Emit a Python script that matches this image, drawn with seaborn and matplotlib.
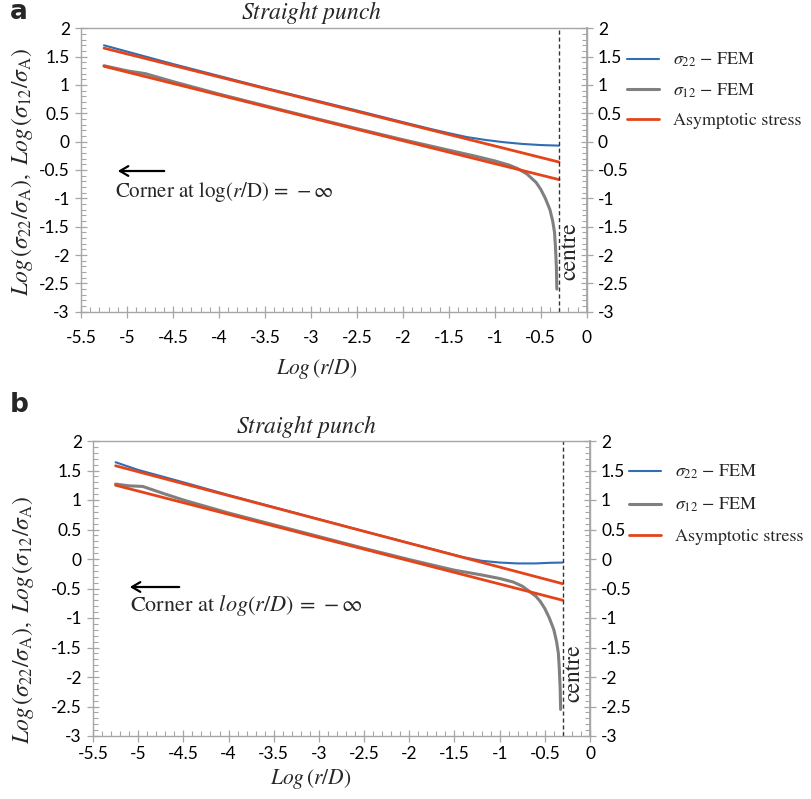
import numpy as np
import pandas as pd
import matplotlib
matplotlib.use("Agg")
import matplotlib.pyplot as plt
from matplotlib.ticker import MultipleLocator, FixedLocator
import seaborn as sns

# ---------------- data ----------------
# Panel a
a_s22_x = [-5.25, -5.0, -4.5, -4.0, -3.5, -3.0, -2.5, -2.0, -1.7, -1.5, -1.3, -1.1, -0.9, -0.7, -0.5, -0.3]
a_s22_y = [1.70, 1.59, 1.37, 1.16, 0.95, 0.75, 0.55, 0.345, 0.225, 0.15, 0.08, 0.03, -0.01, -0.04, -0.06, -0.07]
a_s12_x = [-5.25, -5.0, -4.8, -4.5, -4.0, -3.5, -3.0, -2.5, -2.0, -1.5, -1.2, -1.0, -0.85, -0.75,
           -0.65, -0.55, -0.5, -0.45, -0.4, -0.37, -0.35, -0.34, -0.33, -0.325]
a_s12_y = [1.34, 1.25, 1.20, 1.06, 0.84, 0.635, 0.43, 0.23, 0.035, -0.15, -0.26, -0.34, -0.41, -0.475,
           -0.57, -0.72, -0.84, -1.0, -1.2, -1.4, -1.6, -1.85, -2.2, -2.6]
a_asym_x = [-5.25, -0.3]
a_asym_up = [1.65, -0.36]
a_asym_lo = [1.33, -0.67]

# Panel b
b_s22_x = [-5.25, -5.0, -4.5, -4.0, -3.5, -3.0, -2.5, -2.0, -1.6, -1.4, -1.2, -1.0, -0.8, -0.6, -0.45, -0.3]
b_s22_y = [1.64, 1.51, 1.30, 1.085, 0.88, 0.675, 0.47, 0.27, 0.11, 0.03, -0.03, -0.06, -0.075, -0.075, -0.065, -0.06]
b_s12_x = [-5.25, -5.1, -4.95, -4.7, -4.5, -4.0, -3.5, -3.0, -2.5, -2.0, -1.5, -1.2, -1.0, -0.85, -0.75,
           -0.67, -0.6, -0.55, -0.5, -0.45, -0.4, -0.37, -0.35, -0.34, -0.33, -0.325]
b_s12_y = [1.27, 1.24, 1.23, 1.10, 1.00, 0.78, 0.58, 0.38, 0.18, -0.01, -0.19, -0.27, -0.33, -0.39, -0.46,
           -0.55, -0.63, -0.72, -0.84, -1.0, -1.2, -1.4, -1.6, -1.85, -2.2, -2.55]
b_asym_x = [-5.25, -0.3]
b_asym_up = [1.58, -0.42]
b_asym_lo = [1.25, -0.70]

centre_x = -0.3
x_ticks = [-5.5, -5, -4.5, -4, -3.5, -3, -2.5, -2, -1.5, -1, -0.5, 0]
y_ticks = [-3, -2.5, -2, -1.5, -1, -0.5, 0, 0.5, 1, 1.5, 2]
labels = [r"$\sigma_{22}$ $-$ FEM", r"$\sigma_{12}$ $-$ FEM", "Asymptotic stress"]

# ---------------- style ----------------
sns.set_theme(style="white")
plt.rcParams["font.family"] = ["Lato", "DejaVu Sans"]
plt.rcParams["mathtext.fontset"] = "stix"

BLUE = "#2F6DB5"
GRAY = "#808080"
RED = "#E4441A"
SPINE = "#A6A6A6"
SERIF = "STIXGeneral"

W, H = 811, 799
fig = plt.figure(figsize=(W / 100, H / 100), dpi=100)


def fx(px):
    return px / W


def fy(py):
    return 1 - py / H


def panel(left, right, top, bottom, s22x, s22y, s12x, s12y, ax_x, up, lo,
          title_x, title_py, corner_text, arrow_y, arrow_x0, arrow_x1, text_px, text_py, text_size,
          letter, letter_py, xlabel_pos, ylabel_pos, legend_py, legend_px, legend_spacing, xpad):
    ax = fig.add_axes([fx(left), fy(bottom), fx(right - left), (bottom - top) / H])
    df22 = pd.DataFrame({"x": s22x, "y": s22y})
    df12 = pd.DataFrame({"x": s12x, "y": s12y})
    dfu = pd.DataFrame({"x": ax_x, "y": up})
    dfl = pd.DataFrame({"x": ax_x, "y": lo})
    sns.lineplot(data=df22, x="x", y="y", ax=ax, color=BLUE, lw=1.5, estimator=None, sort=False, label=labels[0])
    sns.lineplot(data=df12, x="x", y="y", ax=ax, color=GRAY, lw=2.2, estimator=None, sort=False, label=labels[1])
    sns.lineplot(data=dfu, x="x", y="y", ax=ax, color=RED, lw=2.0, estimator=None, sort=False, label=labels[2])
    sns.lineplot(data=dfl, x="x", y="y", ax=ax, color=RED, lw=2.0, estimator=None, sort=False)
    ax.axvline(centre_x, color="#333333", lw=1.0, ls=(0, (3, 2)))

    ax.set_xlim(-5.5, 0)
    ax.set_ylim(-3, 2)
    ax.xaxis.set_major_locator(FixedLocator(x_ticks))
    ax.yaxis.set_major_locator(FixedLocator(y_ticks))
    ax.xaxis.set_minor_locator(MultipleLocator(0.1))
    ax.yaxis.set_minor_locator(MultipleLocator(0.1))
    ax.set_xticklabels([f"{t:g}" for t in x_ticks])
    ax.set_yticklabels([f"{t:g}" for t in y_ticks])
    for s in ax.spines.values():
        s.set_color(SPINE)
        s.set_linewidth(1.0)
    ax.tick_params(which="major", direction="inout", length=8, width=0.9, color=SPINE,
                   labelsize=12.5, labelcolor="black", bottom=True, left=True, top=False, right=False)
    ax.tick_params(axis="x", which="major", pad=xpad)
    ax.tick_params(axis="y", which="major", pad=4)
    ax.tick_params(which="minor", direction="in", length=3.5, width=0.8, color=SPINE,
                   bottom=True, left=True, top=False, right=False)

    ax.set_xlabel(r"$Log\,(r/D)$", fontsize=15.5)
    ax.xaxis.set_label_coords(*xlabel_pos)
    ax.xaxis.label.set_verticalalignment("top")
    ax.set_ylabel(r"$Log\,(\sigma_{22}/\sigma_{\mathrm{A}}),\ Log\,(\sigma_{12}/\sigma_{\mathrm{A}})$", fontsize=17)
    ax.yaxis.set_label_coords(*ylabel_pos)
    ax.yaxis.label.set_verticalalignment("center")

    ax2 = ax.twinx()
    ax2.set_ylim(-3, 2)
    ax2.yaxis.set_major_locator(FixedLocator(y_ticks))
    ax2.yaxis.set_minor_locator(MultipleLocator(0.1))
    ax2.set_yticklabels([f"{t:g}" for t in y_ticks])
    for s in ax2.spines.values():
        s.set_visible(False)
    ax2.spines["right"].set_visible(True)
    ax2.spines["right"].set_color(SPINE)
    ax2.tick_params(which="major", direction="inout", length=8, width=0.9, color=SPINE,
                    labelsize=12.5, labelcolor="black", pad=4)
    ax2.tick_params(which="minor", direction="in", length=3.5, width=0.8, color=SPINE)
    ax2.grid(False)

    # title
    fig.text(fx(title_x), fy(title_py), r"$Straight\ punch$", fontsize=17, ha="center", va="center")
    # panel letter
    fig.text(fx(10), fy(letter_py), letter, fontsize=19, fontweight="bold", ha="left", va="center",
             family=["DejaVu Sans"])
    # arrow and corner note
    fig.add_artist(matplotlib.patches.FancyArrowPatch(
        (fx(arrow_x1), fy(arrow_y)), (fx(arrow_x0), fy(arrow_y)), transform=fig.transFigure,
        arrowstyle="->,head_length=6,head_width=3.5", lw=1.6, color="black", mutation_scale=1))
    fig.text(fx(text_px), fy(text_py), corner_text, fontsize=text_size, ha="left", va="center", family=SERIF)
    # centre label
    ax.text(-0.18, -1.93, "centre", rotation=90, fontsize=17, ha="center", va="center", family=SERIF)

    leg = ax.get_legend()
    if leg is not None:
        leg.remove()
    h, l = ax.get_legend_handles_labels()
    fig.legend(h, l, loc="upper left", bbox_to_anchor=(fx(legend_px), fy(legend_py)),
               frameon=False, handlelength=1.75, handletextpad=0.8,
               labelspacing=legend_spacing, borderpad=0, borderaxespad=0,
               prop={"family": SERIF, "size": 13})
    return ax


panel(81, 586.7, 28.3, 311.7, a_s22_x, a_s22_y, a_s12_x, a_s12_y, a_asym_x, a_asym_up, a_asym_lo,
      title_x=312, title_py=13, corner_text="Corner at " + r"$\log(r/\mathrm{D})\,=\,-\infty$",
      arrow_y=171, arrow_x0=115, arrow_x1=167, text_px=115, text_py=192, text_size=15,
      letter="a", letter_py=12, xlabel_pos=(0.467, -0.16), ylabel_pos=(-0.117, 0.493),
      legend_py=51, legend_px=627, legend_spacing=0.68, xpad=9)

panel(93, 590, 441, 736, b_s22_x, b_s22_y, b_s12_x, b_s12_y, b_asym_x, b_asym_up, b_asym_lo,
      title_x=307, title_py=426, corner_text="Corner at " + r"$log(r/D)\,=\,-\infty$",
      arrow_y=587, arrow_x0=127, arrow_x1=182, text_px=130, text_py=606, text_size=16,
      letter="b", letter_py=405, xlabel_pos=(0.437, -0.105), ylabel_pos=(-0.141, 0.393),
      legend_py=463, legend_px=629, legend_spacing=0.8, xpad=3)

fig.savefig("out.png", dpi=100)
